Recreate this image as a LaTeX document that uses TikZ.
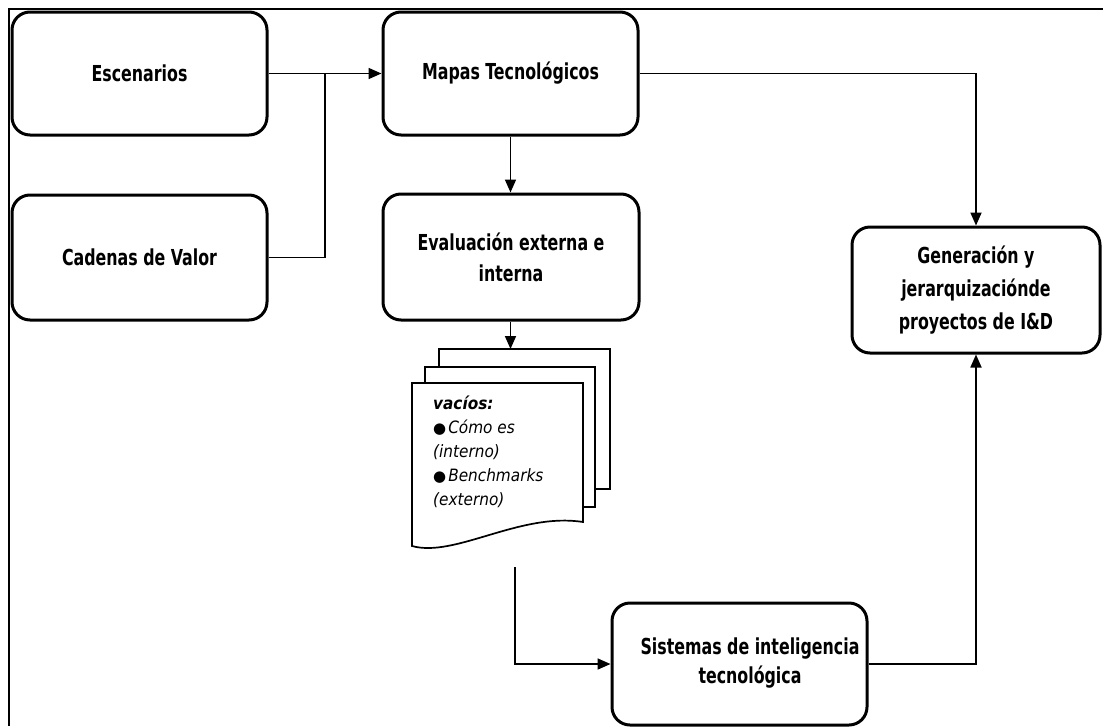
\documentclass[tikz,border=0pt]{standalone}
\usepackage{fontspec}
\setmainfont{DejaVu Sans Condensed}[FakeStretch=0.8]
\newfontfamily\notefont{DejaVu Sans Condensed}
\newfontfamily\symfont{DejaVu Sans}
\usetikzlibrary{arrows.meta}
\newcommand{\notebullet}{{\symfont\upshape\fontsize{15}{24}\selectfont ●}\kern2pt}
\begin{document}
\begin{tikzpicture}[x=1pt,y=-1pt,
  box/.style={draw, line width=3pt, rounded corners=18pt, fill=white,
    inner sep=0pt, align=center,
    font=\fontsize{22}{31}\selectfont\bfseries},
  link/.style={line width=1.7pt, -{Triangle[length=13pt,width=11pt]}},
  plain/.style={line width=1.7pt},
  page/.style={draw, line width=1.7pt, fill=white, line join=miter},
  frame/.style={line width=1.7pt}]
\useasboundingbox (0,0) rectangle (1103,726);

% outer frame (left and top edges)
\draw[frame] (9,726) -- (9,9) -- (1103,9);

% process boxes
\node[box, minimum width=255pt, minimum height=123pt] (esc) at (139.5,73.5) {Escenarios};
\node[box, minimum width=255pt, minimum height=125pt] (cad) at (139.5,257.5) {Cadenas de Valor};
\node[box, minimum width=255pt, minimum height=123pt] (mapas) at (510.5,73.5) {Mapas Tecnológicos};
\node[box, minimum width=256pt, minimum height=126pt] (eval) at (511,257) {Evaluación externa e\\interna};
\node[box, minimum width=248pt, minimum height=126pt, font=\fontsize{22}{33}\selectfont\bfseries] (gen) at (976,290) {Generación y\\jerarquizaciónde\\proyectos de I\&D};
\node[box, minimum width=255pt, minimum height=122pt] (sis) at (739.5,664) {};
\node[inner sep=0pt, align=center, font=\fontsize{22}{29}\selectfont\bfseries] (sislabel) at (750,663) {Sistemas de inteligencia\\tecnológica};

% stacked documents
\draw[page] (439,349) rectangle (610,489);
\draw[page] (425,367) rectangle (595,507);
\draw[page] (412,383) -- (583,383) -- (583,522)
  .. controls (520,512) and (455,558) .. (412,546) -- cycle;
\node[anchor=north west, align=left, inner sep=0pt,
  font=\notefont\fontsize{17}{24}\selectfont\itshape] (gaps) at (433,396)
  {\bfseries vacíos:\\
   \notebullet Cómo es\\
   (interno)\\
   \notebullet Benchmarks\\
   (externo)};

\coordinate (join) at (325,73.5);
\coordinate (stacktop) at (510.5,349);
\coordinate (stackout) at (515,567);

% connectors
\draw[link] (esc.east) -- (mapas.west);
\draw[plain] (cad.east) -| (join);
\draw[link] (mapas.south) -- (eval.north -| mapas.south);
\draw[link] (mapas.east) -| (gen.north);
\draw[link] (eval.south -| stacktop) -- (stacktop);
\draw[link] (stackout) |- (sis.west);
\draw[link] (sis.east) -| (gen.south);
\end{tikzpicture}
\end{document}
